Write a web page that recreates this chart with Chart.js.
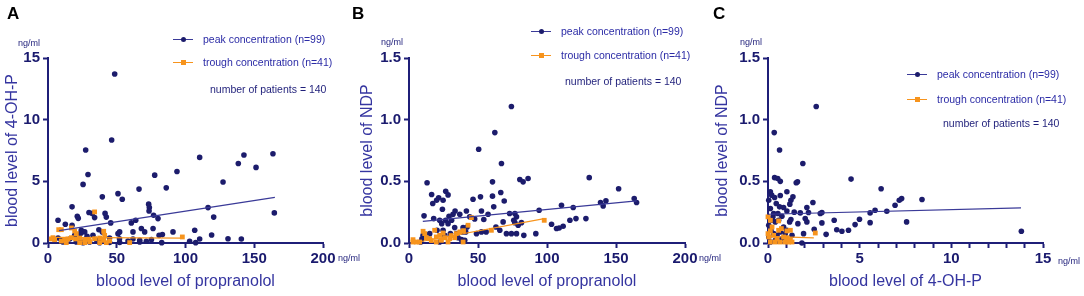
<!DOCTYPE html>
<html>
<head>
<meta charset="utf-8">
<script src="https://cdn.jsdelivr.net/npm/chart.js@4.4.1/dist/chart.umd.min.js"></script>
<style>
  body { margin: 0; background: #fff; width: 1084px; height: 296px; position: relative; overflow: hidden;
         font-family: "Liberation Sans", Arial, sans-serif; }
  canvas { position: absolute; top: 0; }
  .txt { position: absolute; white-space: nowrap; line-height: 1; transform: translateY(-50%); }
  .letter { font-weight: bold; font-size: 17px; color: #000; transform: none; }
  .unit { font-size: 9px; color: #1f1f7a; }
  .leg { font-size: 10.5px; color: #2b2ba6; }
  .mk { position: absolute; width: 20px; height: 0; border-top: 1.5px solid; }
  .dot { position: absolute; left: 8px; top: -3.5px; width: 5px; height: 5px; }
</style>
</head>
<body>
<canvas id="chartA" width="360" height="296" style="left:0px"></canvas>
<canvas id="chartB" width="365" height="296" style="left:355px"></canvas>
<canvas id="chartC" width="374" height="296" style="left:710px"></canvas>

<script>
// panel A: propranolol (x) vs 4-OH-P (y)
const aPeak = [[48.5,13.7],[46.3,8.35],[27.4,7.54],[29.1,5.56],[25.5,4.75],[50.9,4.0],[54,3.55],[39.5,3.74],
  [110.3,6.94],[142.5,7.13],[163.6,7.24],[138.4,6.45],[151.3,6.13],[93.8,5.8],[77.6,5.5],[86,4.47],[127.3,4.94],
  [66.2,4.37],[73.2,3.15],[73.7,2.87],[73.5,2.6],[116.4,2.87],[120.5,2.1],[164.6,2.44],[17.5,2.93],[29.8,2.47],
  [32.2,2.4],[33.9,2.06],[21.3,2.17],[22,2.0],[41.5,2.4],[42.4,2.1],[76.8,2.25],[80,1.98],[45.6,1.63],[7.3,1.84],
  [12.6,1.52],[17.5,1.44],[24.2,1.03],[26.7,0.9],[37,1.08],[39.5,0.9],[60.6,1.63],[63.8,1.84],[67.9,1.17],[70.3,0.9],
  [76.4,1.17],[90.9,0.9],[106.7,1.03],[52.1,0.9],[50.9,0.76],[61.8,0.9],[80.8,0.62],[83.2,0.68],[119,0.65],[130.9,0.35],
  [140.6,0.33],[110.3,0.33],[103,0.14],[107.4,0.03],[82.7,0.03],[71.5,0.14],[66.7,0.22],[61.8,0.33],[52,0.35],[44.8,0.4],
  [40,0.22],[35.2,0.27],[29.1,0.27],[23,0.3],[15.8,0.33],[9.7,0.22],[7.3,0.4],[10.9,0.08],[20.6,0.08],[25.5,0.03],
  [30.3,0.08],[37.6,0.03],[44.8,0.05],[52.1,0.05],[58.2,0.16],[75.2,0.27],[66.7,0.08],[28.4,0.54],[32.7,0.62],
  [19.4,0.62],[23.5,0.76]];
const aTrough = [[33.9,2.52],[7.8,1.08],[9.7,1.08],[17,1.22],[19.4,0.98],[20.6,0.76],[40.5,0.95],[41.2,0.62],
  [3.6,0.43],[2.4,0.33],[4.8,0.27],[12.1,0.22],[14.5,0.33],[17,0.43],[23,0.4],[26.7,0.27],[29.8,0.3],[33.9,0.35],
  [37.6,0.4],[40.5,0.22],[13.3,0.03],[23,0.03],[26.7,0.03],[37.6,0.03],[42.4,0.03],[44.8,0.16],[59.4,0.03],
  [97.7,0.49],[9.7,0.16],[20.1,0.33],[30.3,0.1]];
const aPeakFit = [[8,1.0],[165,3.7]];
const aTroughFit = [[5,0.45],[98,0.4]];

// panel B: propranolol (x) vs NDP (y)
const bPeak = [[74.2,1.107],[62.2,0.895],[50.5,0.76],[67,0.645],[60.5,0.496],[86.3,0.523],[80.3,0.515],[82.7,0.496],
  [130.6,0.53],[151.9,0.44],[13.1,0.488],[26.6,0.42],[28.3,0.39],[46.4,0.355],[51.8,0.374],[60.5,0.38],[69,0.34],
  [66.5,0.41],[110.5,0.306],[142.7,0.342],[163.2,0.36],[164.9,0.328],[16.4,0.393],[20,0.347],[21.5,0.366],[24.7,0.347],
  [17.2,0.32],[10.9,0.22],[17.9,0.198],[24.2,0.274],[33.4,0.26],[41.6,0.26],[36.8,0.233],[44,0.212],[47.6,0.195],
  [52.5,0.26],[54.2,0.19],[57.3,0.233],[61.4,0.293],[72.9,0.239],[76.7,0.239],[77.9,0.212],[75.9,0.184],[76.7,0.165],
  [79.1,0.144],[81.5,0.165],[68.2,0.171],[65.8,0.103],[63,0.13],[55.9,0.09],[52.5,0.09],[70.6,0.076],[74.2,0.076],
  [77.9,0.076],[83.2,0.062],[91.9,0.076],[94.3,0.266],[103.3,0.152],[106.9,0.117],[108.8,0.122],[111.7,0.136],
  [116.6,0.184],[121,0.198],[128.2,0.198],[119,0.288],[138.8,0.328],[140.7,0.301],[26.6,0.184],[28.3,0.157],
  [30.9,0.184],[33.1,0.125],[34.5,0.076],[38.7,0.09],[39.2,0.125],[41.1,0.09],[42.1,0.13],[23.7,0.157],[22.2,0.184],
  [24.7,0.103],[25.9,0.062],[30,0.076],[8.5,0.008],[9.4,0.035],[10.2,0.062],[15,0.076],[22.2,0.008],[35.6,0.043],
  [38,0.027],[40.4,0.022],[48.9,0.076],[20.3,0.103],[31.9,0.233],[29,0.217]];
const bTrough = [[10.2,0.095],[18.6,0.103],[19.8,0.049],[22.2,0.062],[24.7,0.081],[25.9,0.043],[29.5,0.035],
  [34.3,0.076],[36.8,0.09],[42.8,0.144],[45.2,0.206],[59.7,0.103],[98,0.184],[2.9,0.008],[5.3,0.008],[7.7,0.008],
  [16.2,0.02],[12.6,0.043],[15,0.035],[28.3,0.008],[39.2,0.008],[19.8,0.008],[11.4,0.076],[23.5,0.022],[33.1,0.043],
  [2.9,0.027],[39.5,0.1],[30.5,0.06]];
const bPeakFit = [[10,0.176],[165,0.342]];
const bTroughFit = [[3,0.0],[98,0.198]];

// panel C: 4-OH-P (x) vs NDP (y)
const cPeak = [[2.63,1.107],[0.34,0.895],[0.63,0.754],[1.9,0.645],[0.36,0.53],[0.53,0.523],[0.67,0.5],[1.54,0.488],
  [1.61,0.496],[4.53,0.518],[6.17,0.44],[0.13,0.415],[0.36,0.369],[0.2,0.388],[1.03,0.415],[1.25,0.347],[1.36,0.374],
  [0.67,0.385],[1.19,0.315],[0.45,0.32],[2.45,0.328],[2.12,0.288],[2.85,0.239],[2.94,0.247],[1.43,0.25],[1.76,0.244],
  [2.21,0.247],[0.63,0.293],[0.85,0.288],[1.03,0.26],[0.04,0.347],[0.13,0.28],[0.31,0.239],[0.54,0.239],[2.03,0.198],
  [2.12,0.171],[1.63,0.157],[1.18,0.171],[3.61,0.184],[2.94,0.163],[3.75,0.108],[4.03,0.095],[4.39,0.103],[4.75,0.149],
  [4.99,0.193],[5.57,0.165],[5.57,0.244],[5.84,0.266],[6.48,0.258],[6.93,0.306],[7.16,0.347],[7.29,0.36],[8.4,0.353],
  [7.56,0.171],[13.82,0.095],[3.17,0.07],[2.52,0.111],[1.94,0.076],[1.85,0.0],[1.31,0.062],[0.22,0.184],[0.04,0.144],
  [0.16,0.103],[0.04,0.049],[0.31,0.076],[0.49,0.062],[0.76,0.035],[0.4,0.022],[0.13,0.008],[0.58,0.184],[0.85,0.13],
  [1.03,0.103],[0.67,0.09],[0.27,0.212],[0.4,0.171],[0.76,0.217],[1.25,0.19],[0.94,0.076]];
const cTrough = [[0,0.212],[0.13,0.184],[0.58,0.179],[0.13,0.098],[0.58,0.103],[1.03,0.098],[1.22,0.103],[2.58,0.081],
  [0.04,0.049],[0.31,0.062],[0.49,0.035],[0.85,0.049],[0.94,0.008],[1.12,0.008],[0.4,0.008],[0.13,0.008],[0.67,0.008],
  [1.31,0.008],[0.22,0.13],[0.73,0.117],[1.03,0.043],[1.22,0.027],[0,0.076]];
const cPeakFit = [[0,0.233],[13.8,0.285]];
const cTroughFit = [[0,0.054],[2.5,0.041]];

const legendLabels = ['peak concentration (n=99)', 'trough concentration (n=41)', 'number of patients = 140'];

const NAVY = '#1c1c6c';
const AXIS = '#1f1f78';
const ORANGE = '#f7941d';
const FITBLUE = '#3a3a98';

const toXY = arr => arr.map(p => ({ x: p[0], y: p[1] }));

function makePanel(id, p) {
  const ctx = document.getElementById(id).getContext('2d');
  new Chart(ctx, {
    type: 'scatter',
    data: {
      datasets: [
        { data: toXY(p.peakFit), type: 'line', borderColor: FITBLUE, borderWidth: 1.2, pointRadius: 0, clip: false },
        { data: toXY(p.troughFit), type: 'line', borderColor: ORANGE, borderWidth: 1.2, pointRadius: 0, clip: false },
        { data: toXY(p.trough), pointStyle: 'rect', pointRadius: 3.4, backgroundColor: ORANGE, borderWidth: 0, clip: false },
        { data: toXY(p.peak), pointRadius: 2.8, backgroundColor: NAVY, borderWidth: 0, clip: false }
      ]
    },
    options: {
      responsive: false,
      animation: false,
      events: [],
      layout: { padding: { left: 0, top: 58, right: p.padRight, bottom: 0 } },
      plugins: { legend: { display: false }, tooltip: { enabled: false } },
      scales: {
        x: {
          type: 'linear', min: 0, max: p.xMax,
          afterFit: s => { s.height = 53; },
          border: { display: true, color: AXIS, width: 2 },
          grid: { drawOnChartArea: false, drawTicks: true, tickLength: 5, tickWidth: 2, tickColor: AXIS },
          ticks: {
            stepSize: p.xStep, autoSkip: false, padding: 2, color: '#1a1a6e',
            maxRotation: 0, minRotation: 0,
            font: { size: 15, weight: 'bold', family: '"Liberation Sans", Arial, sans-serif' },
            callback: v => (v % p.xLabelEvery === 0 ? String(v) : '')
          },
          title: { display: true, text: p.xTitle, color: '#3535a0',
                   font: { size: 16, family: '"Liberation Sans", Arial, sans-serif' }, padding: { top: 0, bottom: 4.4 } }
        },
        y: {
          type: 'linear', min: 0, max: p.yMax,
          afterFit: s => { s.width = p.yWidth; },
          border: { display: true, color: AXIS, width: 2 },
          grid: { drawOnChartArea: false, drawTicks: true, tickLength: 5, tickWidth: 2, tickColor: AXIS },
          ticks: {
            stepSize: p.yStep, padding: 3, color: '#1a1a6e',
            font: { size: 15, weight: 'bold', family: '"Liberation Sans", Arial, sans-serif' },
            callback: v => v.toFixed(p.yDec)
          },
          title: { display: true, text: p.yTitle, color: '#3535a0',
                   font: { size: 16, family: '"Liberation Sans", Arial, sans-serif' }, padding: { top: 3.4, bottom: 0 } }
        }
      }
    }
  });
}

makePanel('chartA', { peak: aPeak, trough: aTrough, peakFit: aPeakFit, troughFit: aTroughFit,
  xMax: 200, xStep: 50, xLabelEvery: 50, yMax: 15, yStep: 5, yDec: 0, yWidth: 48, padRight: 37,
  xTitle: 'blood level of propranolol', yTitle: 'blood level of 4-OH-P' });
makePanel('chartB', { peak: bPeak, trough: bTrough, peakFit: bPeakFit, troughFit: bTroughFit,
  xMax: 200, xStep: 50, xLabelEvery: 50, yMax: 1.5, yStep: 0.5, yDec: 1, yWidth: 54, padRight: 35,
  xTitle: 'blood level of propranolol', yTitle: 'blood level of NDP' });
makePanel('chartC', { peak: cPeak, trough: cTrough, peakFit: cPeakFit, troughFit: cTroughFit,
  xMax: 15, xStep: 1, xLabelEvery: 5, yMax: 1.5, yStep: 0.5, yDec: 1, yWidth: 58, padRight: 41,
  xTitle: 'blood level of 4-OH-P', yTitle: 'blood level of NDP' });

// letters, units and legends as plain text on top
function addText(cls, text, x, y) {
  const d = document.createElement('div');
  d.className = 'txt ' + cls;
  d.textContent = text;
  d.style.left = x + 'px';
  d.style.top = y + 'px';
  document.body.appendChild(d);
  return d;
}
function addLegend(x, y1, y2, y3, numX) {
  [[y1, NAVY, FITBLUE, '50%'], [y2, ORANGE, ORANGE, '0']].forEach((r, i) => {
    const m = document.createElement('div');
    m.className = 'mk';
    m.style.left = x + 'px';
    m.style.top = r[0] + 'px';
    m.style.borderColor = r[2];
    const dot = document.createElement('div');
    dot.className = 'dot';
    dot.style.background = r[1];
    dot.style.borderRadius = r[3];
    m.appendChild(dot);
    document.body.appendChild(m);
    addText('leg', legendLabels[i], x + 30, r[0]);
  });
  addText('leg', legendLabels[2], numX, y3).style.color = '#1f1f7a';
}

addText('letter', 'A', 7, 5);
addText('letter', 'B', 352, 5);
addText('letter', 'C', 713, 5);

addText('unit', 'ng/ml', 18, 43);
addText('unit', 'ng/ml', 338, 258);
addText('unit', 'ng/ml', 381, 42);
addText('unit', 'ng/ml', 699, 258);
addText('unit', 'ng/ml', 740, 42);
addText('unit', 'ng/ml', 1058, 261);

addLegend(173, 39, 62, 89, 210);
addLegend(531, 31, 55, 81, 565);
addLegend(907, 74, 99, 123, 943);
</script>
</body>
</html>
